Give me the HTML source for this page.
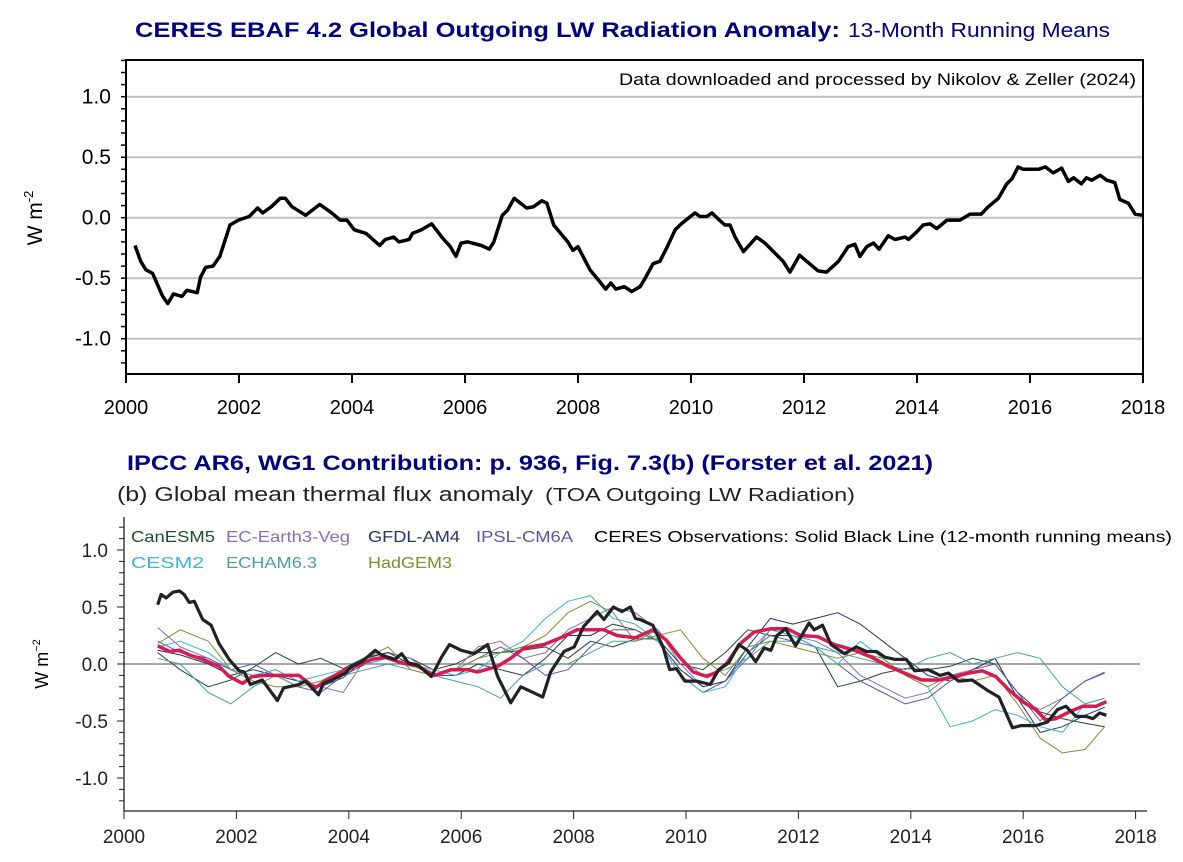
<!DOCTYPE html>
<html><head><meta charset="utf-8">
<style>
html,body{margin:0;padding:0;background:#fff;}
svg{display:block;font-family:"Liberation Sans",Arial,sans-serif;}
</style></head>
<body>
<svg id="fig" width="1183" height="862" viewBox="0 0 1183 862" xmlns="http://www.w3.org/2000/svg">
<text x="135" y="37" font-size="21" font-weight="bold" fill="#000080" textLength="705" lengthAdjust="spacingAndGlyphs">CERES EBAF 4.2 Global Outgoing LW Radiation Anomaly:</text>
<text x="848" y="37" font-size="20" fill="#000080" textLength="262" lengthAdjust="spacingAndGlyphs">13-Month Running Means</text>
<text x="619" y="85" font-size="17" fill="#000" textLength="517" lengthAdjust="spacingAndGlyphs">Data downloaded and processed by Nikolov &amp; Zeller (2024)</text>
<text transform="translate(42,218) rotate(-90)" font-size="21" text-anchor="middle">W m<tspan font-size="13" dy="-9">-2</tspan></text>
<g id="topChart"></g>
<text x="127" y="470" font-size="21" font-weight="bold" fill="#000080" textLength="806" lengthAdjust="spacingAndGlyphs">IPCC AR6, WG1 Contribution: p. 936, Fig. 7.3(b) (Forster et al. 2021)</text>
<text x="117" y="501" font-size="20" fill="#222" textLength="416" lengthAdjust="spacingAndGlyphs">(b) Global mean thermal flux anomaly</text>
<text x="545" y="501" font-size="18" fill="#222" textLength="310" lengthAdjust="spacingAndGlyphs">(TOA Outgoing LW Radiation)</text>
<text transform="translate(48,664) rotate(-90)" font-size="18" text-anchor="middle">W m<tspan font-size="11" dy="-8">−2</tspan></text>
<g id="botChart"></g>
<g font-size="16">
<text x="131" y="542" fill="#1e4d2b" textLength="84" lengthAdjust="spacingAndGlyphs">CanESM5</text>
<text x="226" y="542" fill="#8a6bbf" textLength="124" lengthAdjust="spacingAndGlyphs">EC-Earth3-Veg</text>
<text x="368" y="542" fill="#26346e" textLength="92" lengthAdjust="spacingAndGlyphs">GFDL-AM4</text>
<text x="476" y="542" fill="#5a55a8" textLength="97" lengthAdjust="spacingAndGlyphs">IPSL-CM6A</text>
<text x="594" y="542" fill="#000" textLength="578" lengthAdjust="spacingAndGlyphs">CERES Observations: Solid Black Line (12-month running means)</text>
<text x="131" y="568" fill="#3ab4e0" textLength="73" lengthAdjust="spacingAndGlyphs">CESM2</text>
<text x="226" y="568" fill="#4aa0a0" textLength="91" lengthAdjust="spacingAndGlyphs">ECHAM6.3</text>
<text x="368" y="568" fill="#7f8f2f" textLength="84" lengthAdjust="spacingAndGlyphs">HadGEM3</text>
</g>
</svg>
<script>
// ---- top chart data ----
const topYears=[2000.16,2000.26,2000.35,2000.47,2000.65,2000.74,2000.84,2000.99,2001.08,2001.26,2001.32,2001.41,2001.54,2001.66,2001.84,2001.99,2002.18,2002.33,2002.42,2002.57,2002.73,2002.82,2002.94,2003.18,2003.43,2003.64,2003.79,2003.91,2004.04,2004.25,2004.49,2004.59,2004.74,2004.83,2005.01,2005.07,2005.23,2005.41,2005.59,2005.74,2005.84,2005.93,2006.05,2006.29,2006.43,2006.51,2006.66,2006.75,2006.87,2007.09,2007.21,2007.36,2007.45,2007.57,2007.82,2007.91,2008.0,2008.21,2008.37,2008.49,2008.58,2008.67,2008.82,2008.95,2009.10,2009.19,2009.33,2009.45,2009.57,2009.72,2009.83,2010.07,2010.16,2010.28,2010.37,2010.48,2010.60,2010.69,2010.78,2010.93,2011.16,2011.31,2011.63,2011.75,2011.92,2012.25,2012.40,2012.61,2012.78,2012.90,2012.99,2013.11,2013.23,2013.33,2013.49,2013.61,2013.79,2013.85,2013.99,2014.11,2014.23,2014.35,2014.53,2014.76,2014.94,2015.14,2015.26,2015.44,2015.59,2015.68,2015.79,2015.88,2016.15,2016.27,2016.41,2016.56,2016.68,2016.77,2016.91,2017.0,2017.09,2017.24,2017.36,2017.50,2017.59,2017.74,2017.86,2018.0];
const topValues=[-0.23,-0.36,-0.43,-0.46,-0.65,-0.71,-0.63,-0.65,-0.60,-0.62,-0.49,-0.41,-0.40,-0.32,-0.06,-0.02,0.01,0.08,0.04,0.09,0.16,0.16,0.09,0.02,0.11,0.04,-0.02,-0.02,-0.10,-0.13,-0.23,-0.18,-0.16,-0.20,-0.18,-0.13,-0.10,-0.05,-0.16,-0.24,-0.32,-0.21,-0.20,-0.23,-0.26,-0.20,0.02,0.06,0.16,0.08,0.09,0.14,0.12,-0.06,-0.20,-0.27,-0.24,-0.43,-0.52,-0.59,-0.54,-0.59,-0.57,-0.61,-0.57,-0.50,-0.38,-0.36,-0.25,-0.10,-0.05,0.04,0.01,0.01,0.04,-0.01,-0.06,-0.06,-0.16,-0.28,-0.16,-0.21,-0.36,-0.45,-0.31,-0.44,-0.45,-0.36,-0.24,-0.22,-0.32,-0.24,-0.21,-0.26,-0.15,-0.18,-0.16,-0.18,-0.12,-0.06,-0.05,-0.09,-0.02,-0.02,0.03,0.03,0.09,0.16,0.28,0.32,0.42,0.40,0.40,0.42,0.37,0.41,0.30,0.33,0.28,0.33,0.31,0.35,0.31,0.29,0.15,0.12,0.03,0.02];
const topYTicks=[1.0,0.5,0.0,-0.5,-1.0];
const xTickYears=[2000,2002,2004,2006,2008,2010,2012,2014,2016,2018];

// ---- bottom chart data ----
const ceresYears=[2000.60,2000.66,2000.75,2000.87,2000.99,2001.07,2001.16,2001.25,2001.40,2001.55,2001.69,2001.87,2002.05,2002.14,2002.25,2002.46,2002.58,2002.73,2002.84,2003.11,2003.23,2003.46,2003.55,2003.70,2003.94,2004.05,2004.23,2004.47,2004.58,2004.82,2004.94,2005.06,2005.23,2005.47,2005.65,2005.79,2006.00,2006.23,2006.47,2006.65,2006.88,2007.06,2007.24,2007.45,2007.59,2007.83,2008.01,2008.18,2008.42,2008.54,2008.71,2008.86,2009.01,2009.10,2009.18,2009.41,2009.59,2009.71,2009.83,2009.98,2010.19,2010.43,2010.58,2010.76,2010.94,2011.09,2011.24,2011.39,2011.51,2011.62,2011.77,2011.95,2012.19,2012.28,2012.43,2012.58,2012.82,2013.03,2013.21,2013.39,2013.54,2013.72,2013.92,2014.07,2014.31,2014.52,2014.67,2014.85,2015.09,2015.36,2015.57,2015.81,2015.96,2016.22,2016.43,2016.61,2016.76,2016.94,2017.12,2017.24,2017.36,2017.48];
const ceresValues=[0.52,0.61,0.58,0.63,0.64,0.61,0.54,0.55,0.39,0.34,0.18,0.04,-0.06,-0.07,-0.18,-0.14,-0.22,-0.32,-0.21,-0.18,-0.15,-0.27,-0.17,-0.14,-0.08,-0.02,0.02,0.12,0.08,0.04,0.09,0.01,-0.01,-0.11,0.06,0.17,0.12,0.09,0.17,-0.11,-0.34,-0.20,-0.24,-0.29,-0.07,0.11,0.15,0.33,0.46,0.39,0.50,0.46,0.50,0.40,0.39,0.34,0.15,-0.05,-0.04,-0.15,-0.15,-0.18,-0.05,0.01,0.17,0.12,0.02,0.14,0.12,0.25,0.31,0.16,0.36,0.30,0.34,0.17,0.09,0.15,0.11,0.11,0.06,0.04,0.04,-0.06,-0.05,-0.10,-0.08,-0.15,-0.14,-0.23,-0.29,-0.56,-0.54,-0.54,-0.51,-0.40,-0.37,-0.46,-0.46,-0.48,-0.43,-0.45];
const meanYears=[2000.60,2000.81,2000.99,2001.16,2001.40,2001.69,2001.87,2002.11,2002.28,2002.52,2002.87,2003.11,2003.40,2003.58,2003.94,2004.17,2004.41,2004.64,2004.94,2005.23,2005.53,2005.82,2006.12,2006.29,2006.65,2006.88,2007.12,2007.47,2007.77,2008.06,2008.30,2008.54,2008.77,2009.10,2009.41,2009.65,2009.89,2010.13,2010.37,2010.55,2010.73,2010.97,2011.21,2011.51,2011.80,2012.04,2012.34,2012.64,2013.00,2013.30,2013.60,2013.89,2014.19,2014.49,2014.79,2015.03,2015.27,2015.51,2015.75,2015.99,2016.22,2016.40,2016.58,2016.82,2017.06,2017.30,2017.48];
const meanValues=[0.16,0.11,0.12,0.08,0.04,-0.02,-0.11,-0.17,-0.11,-0.10,-0.10,-0.10,-0.21,-0.15,-0.05,-0.01,0.04,0.06,0.01,-0.02,-0.10,-0.05,-0.05,-0.07,-0.02,0.05,0.14,0.17,0.23,0.30,0.30,0.30,0.25,0.23,0.30,0.21,0.06,-0.07,-0.11,-0.07,0.01,0.18,0.28,0.31,0.31,0.25,0.24,0.17,0.12,0.06,-0.02,-0.08,-0.14,-0.14,-0.11,-0.08,-0.06,-0.11,-0.23,-0.33,-0.40,-0.49,-0.48,-0.42,-0.37,-0.37,-0.33];
const modelYears=[2000.6,2001.0,2001.5,2001.9,2002.3,2002.7,2003.1,2003.5,2003.9,2004.3,2004.7,2005.1,2005.5,2005.9,2006.3,2006.7,2007.1,2007.5,2007.9,2008.3,2008.7,2009.1,2009.5,2009.9,2010.3,2010.7,2011.1,2011.5,2011.9,2012.3,2012.7,2013.1,2013.5,2013.9,2014.3,2014.7,2015.1,2015.5,2015.9,2016.3,2016.7,2017.1,2017.45];
const canesm5=[0.10,-0.05,-0.20,-0.14,-0.03,0.10,0.00,0.05,-0.04,0.06,0.10,0.05,-0.05,0.00,0.10,0.10,0.12,0.15,0.05,0.20,0.15,0.22,0.22,0.00,-0.05,0.10,0.30,0.25,0.25,0.15,-0.20,-0.15,-0.08,-0.04,-0.05,-0.02,0.05,0.00,-0.25,-0.42,-0.48,-0.52,-0.55];
const ecEarth=[0.32,0.15,0.05,-0.05,-0.10,-0.05,-0.15,-0.20,-0.25,0.05,0.10,0.05,-0.10,-0.05,0.15,0.20,0.05,0.10,0.30,0.40,0.50,0.45,0.30,0.00,-0.20,-0.15,0.05,0.30,0.25,0.20,0.10,-0.10,-0.20,-0.30,-0.25,-0.10,-0.05,0.05,-0.30,-0.40,-0.30,-0.15,-0.07];
const gfdl=[0.12,0.08,0.00,-0.10,-0.05,-0.10,-0.15,-0.20,-0.12,0.05,0.10,0.00,-0.10,-0.10,0.00,-0.05,-0.10,0.05,0.25,0.25,0.35,0.30,0.20,-0.05,-0.20,-0.15,0.15,0.40,0.35,0.40,0.45,0.35,0.20,0.05,-0.10,-0.15,-0.05,0.05,-0.30,-0.60,-0.55,-0.45,-0.38];
const ipsl=[0.20,0.10,0.05,-0.05,0.00,-0.10,-0.20,-0.25,-0.10,0.00,0.05,0.00,-0.10,-0.05,0.05,0.15,0.05,-0.10,-0.05,0.15,0.30,0.30,0.20,-0.10,-0.25,-0.15,0.10,0.25,0.20,0.15,0.00,-0.15,-0.25,-0.35,-0.30,-0.15,-0.05,0.00,-0.25,-0.50,-0.30,-0.15,-0.08];
const cesm2=[0.15,0.20,0.10,-0.05,-0.10,-0.05,-0.15,-0.10,-0.05,0.00,0.05,0.00,-0.05,-0.10,-0.05,0.10,0.20,0.40,0.55,0.60,0.40,0.35,0.20,-0.10,-0.25,-0.20,0.10,0.30,0.25,0.15,0.00,0.20,0.05,-0.10,-0.20,-0.55,-0.50,-0.40,-0.45,-0.55,-0.60,-0.35,-0.30];
const echam=[0.05,0.00,-0.25,-0.35,-0.20,-0.10,-0.20,-0.15,-0.10,-0.05,0.00,-0.05,-0.10,-0.15,-0.20,-0.30,-0.10,0.00,0.00,0.10,0.20,0.20,0.30,0.05,-0.10,-0.05,0.05,0.20,0.20,0.15,0.10,0.05,0.00,-0.05,0.05,0.10,0.00,0.05,0.10,0.05,-0.20,-0.35,-0.30];
const hadgem=[0.18,0.30,0.20,-0.05,-0.15,-0.20,-0.20,-0.15,-0.05,0.05,0.15,-0.05,-0.10,-0.05,0.05,0.10,0.15,0.25,0.45,0.55,0.45,0.20,0.25,0.30,0.05,-0.10,0.15,0.20,0.15,0.10,0.05,0.10,0.05,-0.10,-0.20,-0.10,-0.15,-0.10,-0.35,-0.65,-0.78,-0.75,-0.55];
const botYTicks=[1.0,0.5,0.0,-0.5,-1.0];

const NS='http://www.w3.org/2000/svg';
function mk(parent,tag,attrs){const e=document.createElementNS(NS,tag);for(const k in attrs)e.setAttribute(k,attrs[k]);parent.appendChild(e);return e;}
function fmt(v){return (v<0?'-':'')+Math.abs(v).toFixed(1);}

// ---- top chart ----
const T={x0:126,x1:1143,y0:60,y1:374};
const tx=y=>T.x0+(y-2000)*(T.x1-T.x0)/18;
const ty=v=>217.7-v*121;
const topG=document.getElementById('topChart');
topYTicks.forEach(v=>{
  const g=mk(topG,'line',{x1:T.x0,x2:T.x1,y1:ty(v),y2:ty(v),stroke:'#c0c0c0','stroke-width':2});
  
  
  const t=mk(topG,'text',{x:111,y:ty(v)+7,'font-size':21,'text-anchor':'end'});
  t.textContent=fmt(v);
  
  
});
for(let i=-12;i<=13;i++){const v=i/10;const y=ty(v);if(y<T.y0||y>T.y1)continue;
  const m=mk(topG,'line',{x1:T.x0-5,x2:T.x0,y1:y,y2:y,stroke:'#000','stroke-width':1.5});
  
  }
const frame=mk(topG,'rect',{x:T.x0,y:T.y0,width:T.x1-T.x0,height:T.y1-T.y0,fill:'none',stroke:'#000','stroke-width':2});


xTickYears.forEach(yr=>{
  const l=mk(topG,'line',{x1:tx(yr),x2:tx(yr),y1:T.y1,y2:T.y1+9,stroke:'#000','stroke-width':2});
  
  
  const t=mk(topG,'text',{x:tx(yr),y:414,'font-size':20,'text-anchor':'middle'});
  t.textContent=yr;
  
  
});
const tl=mk(topG,'path',{d:topYears.map((y,i)=>(i?'L':'M')+tx(y).toFixed(1)+','+ty(topValues[i]).toFixed(1)).join(''),fill:'none',stroke:'#000','stroke-width':3.5,'stroke-linejoin':'round'});



// ---- bottom chart ----
const B={x0:124,x1:1147,y0:517,y1:811};
const bx=y=>124+(y-2000)*56.2;
const by=v=>664-v*114;
const botG=document.getElementById('botChart');
const zl=mk(botG,'line',{x1:B.x0,x2:1140,y1:by(0),y2:by(0),stroke:'#888','stroke-width':1.5});


const ax=mk(botG,'path',{d:`M${B.x0},${B.y0}V${B.y1}H${B.x1}`,fill:'none',stroke:'#222','stroke-width':1.3});


for(let i=-12;i<=13;i++){const v=i/10;const y=by(v);if(y<B.y0||y>B.y1)continue;
  const major=(i%5===0);
  const m=mk(botG,'line',{x1:B.x0-(major?7:5),x2:B.x0,y1:y,y2:y,stroke:'#222','stroke-width':1});
  
  }
botYTicks.forEach(v=>{
  const t=mk(botG,'text',{x:108,y:by(v)+7,'font-size':19,'text-anchor':'end',fill:'#222'});
  t.textContent=fmt(v);
  
  
});
xTickYears.forEach(yr=>{
  const l=mk(botG,'line',{x1:bx(yr),x2:bx(yr),y1:B.y1,y2:B.y1+8,stroke:'#222','stroke-width':1});
  
  
  const t=mk(botG,'text',{x:bx(yr),y:843,'font-size':19,'text-anchor':'middle',fill:'#222'});
  t.textContent=yr;
  
  
});
function line(xs,vs,color,w,name){
  const p=mk(botG,'path',{d:xs.map((y,i)=>(i?'L':'M')+bx(y).toFixed(1)+','+by(vs[i]).toFixed(1)).join(''),fill:'none',stroke:color,'stroke-width':w,'stroke-linejoin':'round'});
  
  
}
line(modelYears,canesm5,'#1e4d2b',1,'canesm5-line');
line(modelYears,ecEarth,'#8a6bbf',1,'ec-earth3-veg-line');
line(modelYears,gfdl,'#26346e',1,'gfdl-am4-line');
line(modelYears,ipsl,'#5a55a8',1,'ipsl-cm6a-line');
line(modelYears,cesm2,'#3ab4e0',1,'cesm2-line');
line(modelYears,echam,'#4aa0a0',1,'echam63-line');
line(modelYears,hadgem,'#7f8f2f',1,'hadgem3-line');
line(meanYears,meanValues,'#d81b50',3.5,'model-mean-line');
line(ceresYears,ceresValues,'#222',3.2,'ceres-observations-line');
</script>
</body></html>
